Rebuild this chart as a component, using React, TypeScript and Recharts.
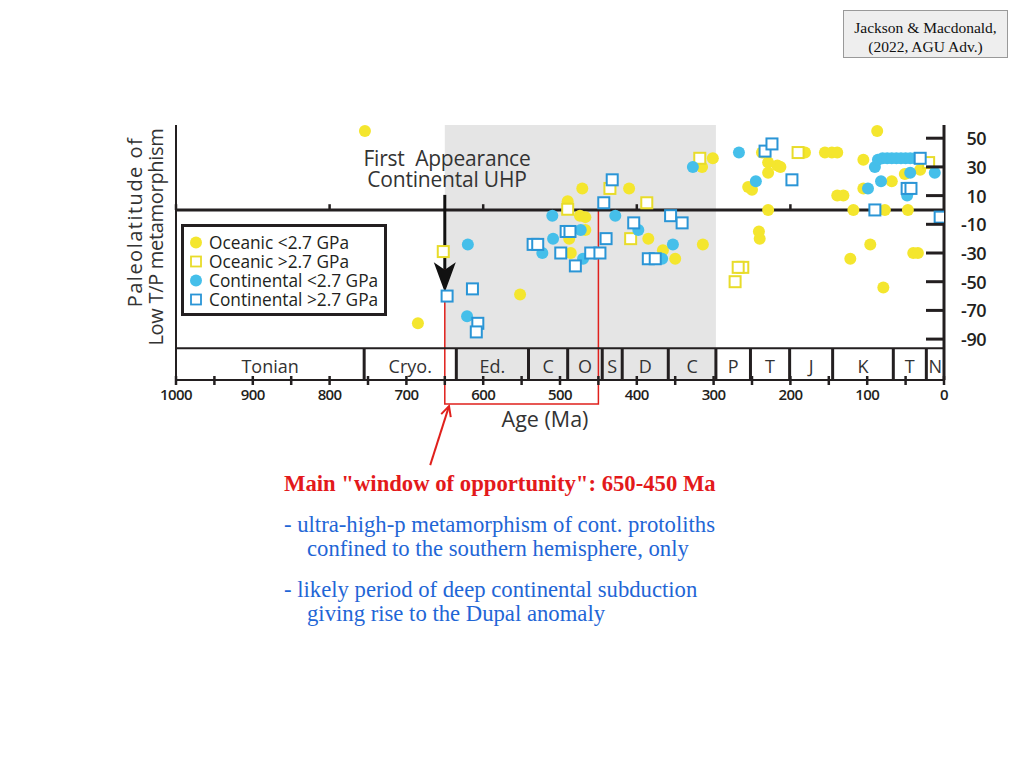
import React from 'react';
import { ScatterChart, Scatter, XAxis, YAxis, ReferenceArea, ReferenceLine, Legend } from 'recharts';

// ---- data (age in Ma, paleolatitude in degrees) ----
const oceanicLow = [
  { age: 754, lat: 55 }, { age: 685, lat: -79 }, { age: 552, lat: -59 }, { age: 490, lat: 6 },
  { age: 471, lat: 15 }, { age: 410, lat: 15 }, { age: 474, lat: -4 }, { age: 467, lat: -5 },
  { age: 467, lat: -14 }, { age: 488, lat: -20 }, { age: 486, lat: -30 }, { age: 385, lat: -20 },
  { age: 366, lat: -28 }, { age: 350, lat: -34 }, { age: 314, lat: -24 }, { age: 315, lat: 30 },
  { age: 301, lat: 36 }, { age: 237, lat: 40 }, { age: 229, lat: 33 }, { age: 217, lat: 31 },
  { age: 213, lat: 30 }, { age: 229, lat: 26 }, { age: 255, lat: 16 }, { age: 250, lat: 14 },
  { age: 229, lat: 0 }, { age: 241, lat: -15 }, { age: 240, lat: -20 }, { age: 181, lat: 40 },
  { age: 155, lat: 40 }, { age: 146, lat: 40 }, { age: 139, lat: 40 }, { age: 87, lat: 55 },
  { age: 105, lat: 35 }, { age: 139, lat: 10 }, { age: 131, lat: 10 }, { age: 105, lat: 15 },
  { age: 68, lat: 20 }, { age: 51, lat: 25 }, { age: 31, lat: 28 }, { age: 118, lat: 0 },
  { age: 77, lat: 0 }, { age: 47, lat: 0 }, { age: 96, lat: -24 }, { age: 122, lat: -34 },
  { age: 79, lat: -54 }, { age: 40, lat: -30 }, { age: 34, lat: -30 },
];
const oceanicHigh = [
  { age: 652, lat: -29 }, { age: 490, lat: 0.5 }, { age: 435, lat: 15 }, { age: 387, lat: 5 },
  { age: 408, lat: -20 }, { age: 318, lat: 36 }, { age: 190, lat: 40 }, { age: 262, lat: -40 },
  { age: 268, lat: -40 }, { age: 272, lat: -50 }, { age: 20, lat: 33 },
];
const continentalLow = [
  { age: 620, lat: -24 }, { age: 621, lat: -74 }, { age: 523, lat: -30 }, { age: 509, lat: -20 },
  { age: 510, lat: -4 }, { age: 473, lat: -14 }, { age: 470, lat: -34 }, { age: 428, lat: -4 },
  { age: 398, lat: -14 }, { age: 353, lat: -24 }, { age: 367, lat: -34 }, { age: 327, lat: 30 },
  { age: 267, lat: 40 }, { age: 245, lat: 20 }, { age: 99, lat: 15 }, { age: 90, lat: 30 },
  { age: 86, lat: 35 }, { age: 80, lat: 36 }, { age: 74, lat: 36 }, { age: 68, lat: 36 },
  { age: 62, lat: 36 }, { age: 56, lat: 36 }, { age: 50, lat: 36 }, { age: 44, lat: 36 },
  { age: 38, lat: 36 }, { age: 82, lat: 20 }, { age: 44, lat: 26 }, { age: 12, lat: 26 },
  { age: 48, lat: 10 },
];
const continentalHigh = [
  { age: 647, lat: -60 }, { age: 614, lat: -55 }, { age: 607, lat: -79 }, { age: 609, lat: -85 },
  { age: 535, lat: -24 }, { age: 529, lat: -24 }, { age: 499, lat: -30 }, { age: 492, lat: -15 },
  { age: 487, lat: -15 }, { age: 480, lat: -39 }, { age: 460, lat: -30 }, { age: 448, lat: -30 },
  { age: 440, lat: -20 }, { age: 443, lat: 5 }, { age: 432, lat: 21 }, { age: 404, lat: -9 },
  { age: 385, lat: -34 }, { age: 376, lat: -34 }, { age: 356, lat: -4 }, { age: 341, lat: -9 },
  { age: 233, lat: 41 }, { age: 224, lat: 46 }, { age: 198, lat: 21 }, { age: 90, lat: 0 },
  { age: 31, lat: 36 }, { age: 48, lat: 15 }, { age: 43, lat: 15 }, { age: 5, lat: -5 },
];

const latTicks = [50, 30, 10, -10, -30, -50, -70, -90];
const ageTicks = [0, 50, 100, 150, 200, 250, 300, 350, 400, 450, 500, 550, 600, 650, 700, 750, 800, 850, 900, 950, 1000];
const zeroLineTicks = [1000, 800, 600, 400, 200];

const periodNames = ['Tonian', 'Cryo.', 'Ed.', 'C', 'O', 'S', 'D', 'C', 'P', 'T', 'J', 'K', 'T', 'N'];
const periodStarts = [1000, 755, 635, 541, 490, 445, 419, 359, 297, 252, 201, 145, 66, 23];
const periodEnds = [755, 635, 541, 490, 445, 419, 359, 297, 252, 201, 145, 66, 23, 0];

// ---- layout constants ----
const LAT_MAX = 59.2;
const LAT_MIN = -118.5;
const BAND_TOP = -96.3;
const SHADE_FROM = 650;
const SHADE_TO = 297;
const BAND_SHADE_FROM = 635;
const BAND_SHADE_TO = 297;
const WINDOW_FROM = 650;
const WINDOW_TO = 450;
const WINDOW_BOTTOM = -135.3;

const SANS = '"Open Sans", "Noto Sans", sans-serif';
const SERIF = '"Liberation Serif", "Times New Roman", serif';
const INK = '#231f20';
const YELLOW = '#f4e62e';
const YELLOW_EDGE = '#e8dc2a';
const BLUE = '#45bfea';
const BLUE_EDGE = '#2a95d6';

const SERIES = [
  { name: 'Oceanic <2.7 GPa', color: YELLOW, kind: 'circle', data: oceanicLow },
  { name: 'Oceanic >2.7 GPa', color: YELLOW_EDGE, kind: 'square', data: oceanicHigh },
  { name: 'Continental <2.7 GPa', color: BLUE, kind: 'circle', data: continentalLow },
  { name: 'Continental >2.7 GPa', color: BLUE_EDGE, kind: 'square', data: continentalHigh },
];

const circleShape = (color: string) => (p: any) => <circle cx={p.cx} cy={p.cy} r={6} fill={color} />;
const squareShape = (color: string) => (p: any) => (
  <rect x={p.cx - 5.5} y={p.cy - 5.5} width={11} height={11} fill="#fff" stroke={color} strokeWidth={2} />
);

const RightTick = (props: any) => {
  const { x, y, payload } = props;
  return (
    <g>
      <line x1={x - 18} x2={x} y1={y} y2={y} stroke={INK} strokeWidth={3} />
      <text x={x + 42} y={y} textAnchor="end" dominantBaseline="central" fontSize={18} fontWeight={600}
        fontFamily={SANS} fill={INK} letterSpacing={-0.5}>{payload.value}</text>
    </g>
  );
};

const BottomTick = (props: any) => {
  const { x, y, payload } = props;
  return (
    <g>
      <line x1={x} x2={x} y1={y - 4} y2={y + 5} stroke={INK} strokeWidth={2.5} />
      {payload.value % 100 === 0 && (
        <text x={x} y={y + 14} textAnchor="middle" dominantBaseline="central" fontSize={15} fontWeight={600}
          fontFamily={SANS} fill={INK} letterSpacing={-0.6}>{payload.value}</text>
      )}
    </g>
  );
};

const arrowShape = (color: string, w: number, headL: number, headW: number, open: boolean) => (p: any) => {
  const { x1, y1, x2, y2 } = p;
  const dx = x2 - x1, dy = y2 - y1;
  const len = Math.sqrt(dx * dx + dy * dy) || 1;
  const ux = dx / len, uy = dy / len;
  const bx = x2 - ux * headL, by = y2 - uy * headL;
  const px = -uy * headW, py = ux * headW;
  if (open) {
    return (
      <g>
        <line x1={x1} y1={y1} x2={x2} y2={y2} stroke={color} strokeWidth={w} />
        <polyline points={`${bx + px},${by + py} ${x2},${y2} ${bx - px},${by - py}`} fill="none" stroke={color} strokeWidth={w} />
      </g>
    );
  }
  const nx = x2 - ux * headL * 0.75, ny = y2 - uy * headL * 0.75;
  return (
    <g>
      <line x1={x1} y1={y1} x2={nx} y2={ny} stroke={color} strokeWidth={w} />
      <path d={`M${x2},${y2} L${bx + px},${by + py} L${nx},${ny} L${bx - px},${by - py} Z`} fill={color} />
    </g>
  );
};

const LegendBox = () => (
  <div style={{ width: 200, height: 80, border: `3px solid ${INK}`, background: '#fff', paddingTop: 6, boxSizing: 'content-box', fontFamily: SANS, fontSize: 17.3, color: INK }}>
    {SERIES.map((s) => (
      <div key={s.name} style={{ display: 'flex', alignItems: 'center', height: 19, whiteSpace: 'nowrap', overflow: 'visible' }}>
        <svg width={22} height={19} style={{ marginLeft: 3, flex: 'none' }}>
          {s.kind === 'circle'
            ? <circle cx={9} cy={9.5} r={6} fill={s.color} />
            : <rect x={4} y={4.5} width={10} height={10} fill="#fff" stroke={s.color} strokeWidth={1.8} />}
        </svg>
        <span style={{ display: 'inline-block', height: 19, lineHeight: '19px' }}>{s.name}</span>
      </div>
    ))}
  </div>
);

export default function App() {
  return (
    <div style={{ position: 'absolute', left: 0, top: 0, width: 1024, height: 768, background: '#fff', overflow: 'hidden' }}>
      <ScatterChart width={1024} height={768} margin={{ top: 125, left: 176, right: 20, bottom: 338 }}>
        <XAxis type="number" dataKey="age" domain={[0, 1000]} reversed ticks={ageTicks} interval={0}
          allowDataOverflow height={50} axisLine={{ stroke: INK, strokeWidth: 2 }} tickLine={false}
          tickSize={0} tickMargin={0} tick={<BottomTick />}
          label={{
            content: (lp: any) => {
              const vb = lp.viewBox;
              return (
                <text x={vb.x + vb.width / 2 - 15} y={vb.y + 38} textAnchor="middle" dominantBaseline="central"
                  fontSize={21.5} fontFamily={SANS} fill="#333">Age (Ma)</text>
              );
            },
          }} />
        <YAxis type="number" dataKey="lat" orientation="right" domain={[LAT_MIN, LAT_MAX]} ticks={latTicks}
          allowDataOverflow width={60} axisLine={{ stroke: INK, strokeWidth: 3 }} tickLine={false}
          tickSize={0} tickMargin={0} tick={<RightTick />} />

        {/* shaded 650-300 Ma interval */}
        <ReferenceArea x1={SHADE_FROM} x2={SHADE_TO} y1={BAND_TOP} y2={LAT_MAX} fill="#e5e5e5" fillOpacity={1} stroke="none" />
        <ReferenceArea x1={BAND_SHADE_FROM} x2={BAND_SHADE_TO} y1={LAT_MIN} y2={BAND_TOP} fill="#e5e5e5" fillOpacity={1} stroke="none" />

        {/* geological time scale band */}
        {periodNames.map((name, i) => (
          <ReferenceArea key={`p${i}`} x1={periodStarts[i]} x2={periodEnds[i]} y1={LAT_MIN} y2={BAND_TOP}
            fill="none" stroke="none"
            label={{ value: name, position: 'center', fontSize: 18, fontFamily: SANS, fill: '#333', dy: 3 } as any} />
        ))}
        {periodStarts.slice(1).map((b) => (
          <ReferenceLine key={`b${b}`} segment={[{ x: b, y: LAT_MIN }, { x: b, y: BAND_TOP }]} stroke={INK} strokeWidth={3} />
        ))}
        <ReferenceLine y={BAND_TOP} stroke={INK} strokeWidth={2} />
        <ReferenceLine x={1000} stroke={INK} strokeWidth={2} />

        {/* equator line and its ticks */}
        <ReferenceLine y={0} stroke={INK} strokeWidth={3} />
        {zeroLineTicks.map((t) => (
          <ReferenceLine key={`z${t}`} segment={[{ x: t, y: 0 }, { x: t, y: 4 }]} stroke={INK} strokeWidth={2.5} />
        ))}

        {/* first appearance arrow */}
        <ReferenceLine segment={[{ x: 650, y: 10.5 }, { x: 650, y: -57.3 }]} ifOverflow="visible"
          shape={arrowShape('#111', 3, 30, 11, false)} />

        {SERIES.map((s) => (
          <Scatter key={s.name} name={s.name} data={s.data} fill={s.color} isAnimationActive={false}
            shape={s.kind === 'circle' ? circleShape(s.color) : squareShape(s.color)} />
        ))}

        {/* window of opportunity box and pointer */}
        <ReferenceArea x1={WINDOW_FROM} x2={WINDOW_TO} y1={WINDOW_BOTTOM} y2={0} fill="none" stroke="#e0201c"
          strokeWidth={1.5} ifOverflow="visible" />
        <ReferenceLine segment={[{ x: 669, y: -177.8 }, { x: 644.5, y: -136.7 }]} ifOverflow="visible"
          shape={arrowShape('#e0201c', 2, 10, 5, true)} />

        <Legend layout="vertical" align="center" verticalAlign="middle"
          wrapperStyle={{ position: 'absolute', left: 181, top: 224, width: 206, height: 92 }}
          content={() => <LegendBox />} />
      </ScatterChart>

      {/* annotation texts drawn above the plot */}
      <svg width={1024} height={768} style={{ position: 'absolute', left: 0, top: 0, pointerEvents: 'none' }}>
        <text x={447} y={158} textAnchor="middle" dominantBaseline="central" fontSize={21} fontFamily={SANS} fill="#333" letterSpacing={-0.2}>{'First\u00A0\u00A0Appearance'}</text>
        <text x={447} y={179} textAnchor="middle" dominantBaseline="central" fontSize={21} fontFamily={SANS} fill="#333" letterSpacing={-0.2}>Continental UHP</text>
        <text x={134} y={222} transform="rotate(-90 134 222)" textAnchor="middle" dominantBaseline="central" fontSize={20} fontFamily={SANS} fill="#333" letterSpacing={1.5}>Paleolatitude of</text>
        <text x={155} y={237} transform="rotate(-90 155 237)" textAnchor="middle" dominantBaseline="central" fontSize={20} fontFamily={SANS} fill="#333" letterSpacing={-0.3}>Low T/P metamorphism</text>
      </svg>

      <div style={{ position: 'absolute', left: 843, top: 10, width: 165, height: 48, background: '#eeeeee', border: '1px solid #999', fontFamily: SERIF, fontSize: 15.5, lineHeight: '19px', color: '#111', textAlign: 'center', paddingTop: 7, boxSizing: 'border-box' }}>
        <div>Jackson &amp; Macdonald,</div>
        <div>(2022, AGU Adv.)</div>
      </div>

      <div style={{ position: 'absolute', left: 284, top: 472, fontFamily: SERIF, fontSize: 22.7, fontWeight: 700, lineHeight: '24px', color: '#e3191b', whiteSpace: 'nowrap' }}>
        Main "window of opportunity": 650-450 Ma
      </div>
      <div style={{ position: 'absolute', left: 284, top: 513, fontFamily: SERIF, fontSize: 22.7, lineHeight: '24px', color: '#1f66d6', whiteSpace: 'nowrap' }}>
        <div>- ultra-high-p metamorphism of cont. protoliths</div>
        <div style={{ paddingLeft: 23 }}>confined to the southern hemisphere, only</div>
      </div>
      <div style={{ position: 'absolute', left: 284, top: 578, fontFamily: SERIF, fontSize: 22.7, lineHeight: '24px', color: '#1f66d6', whiteSpace: 'nowrap' }}>
        <div>- likely period of deep continental subduction</div>
        <div style={{ paddingLeft: 23 }}>giving rise to the Dupal anomaly</div>
      </div>
    </div>
  );
}
